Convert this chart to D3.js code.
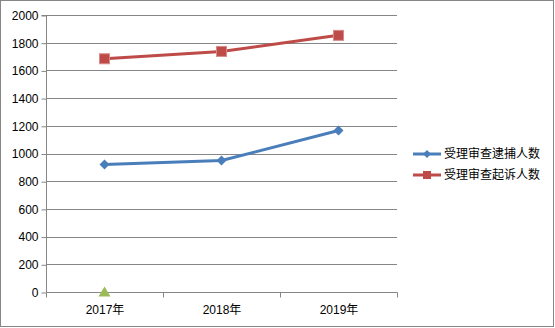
<!DOCTYPE html>
<html>
<head>
<meta charset="utf-8">
<script src="https://cdn.jsdelivr.net/npm/d3@7"></script>
<style>
  html, body { margin: 0; padding: 0; background: #fff; }
  svg { display: block; }
  text { font-family: "Liberation Sans", "Noto Sans CJK SC", sans-serif; font-size: 12px; fill: #000; }
</style>
</head>
<body>
<svg id="chart" width="555" height="328"></svg>
<script>
const categories = ["2017年", "2018年", "2019年"];
const arrestValues = [921, 949, 1166];      // 受理审查逮捕人数
const prosecuteValues = [1684, 1737, 1853]; // 受理审查起诉人数
const thirdSeries = [0, null, null];        // unlabeled series, single point
const yTicks = [0, 200, 400, 600, 800, 1000, 1200, 1400, 1600, 1800, 2000];
const seriesNames = ["受理审查逮捕人数", "受理审查起诉人数"];

const svg = d3.select("#chart");
const plotLeft = 46, plotRight = 397, plotTop = 15, plotBottom = 292;

svg.append("rect").attr("x", 0.5).attr("y", 0.5).attr("width", 553).attr("height", 326)
  .attr("fill", "#fff").attr("stroke", "#868686");

const x = d3.scaleBand().domain(categories).range([plotLeft, plotRight]);
const y = d3.scaleLinear().domain([0, 2000]).range([plotBottom, plotTop]);
const cx = d => x(d) + x.bandwidth() / 2;

// gridlines
svg.append("g").selectAll("line").data(yTicks.filter(t => t > 0)).join("line")
  .attr("x1", plotLeft).attr("x2", plotRight)
  .attr("y1", d => Math.round(y(d)) + 0.5).attr("y2", d => Math.round(y(d)) + 0.5)
  .attr("stroke", "#868686").attr("stroke-width", 1);

// y axis
const yAxis = svg.append("g").attr("transform", `translate(${plotLeft + 0.5},0.5)`)
  .call(d3.axisLeft(y).tickValues(yTicks).tickSize(5).tickPadding(3).tickFormat(d3.format("d")));
yAxis.select(".domain").attr("stroke", "#868686").attr("d", `M-5,${Math.round(y(2000))}H0V${Math.round(y(0))}`);
yAxis.selectAll(".tick line").attr("stroke", "#868686");
yAxis.selectAll(".tick text").style("font-size", "12px").attr("fill", "#000");

// x axis
const xAxis = svg.append("g").attr("transform", `translate(0.5,${Math.round(y(0)) + 0.5})`)
  .call(d3.axisBottom(x).tickSize(0).tickPadding(11));
xAxis.select(".domain").attr("stroke", "#868686").attr("d", `M${plotLeft},0H${plotRight}`);
xAxis.selectAll(".tick text").style("font-size", "12px").attr("fill", "#000").attr("dy", "0.9em");
svg.append("g").selectAll("line").data(categories.map(c => x(c)).concat([plotRight])).join("line")
  .attr("x1", d => Math.round(d) + 0.5).attr("x2", d => Math.round(d) + 0.5)
  .attr("y1", Math.round(y(0)) + 0.5).attr("y2", Math.round(y(0)) + 5.5)
  .attr("stroke", "#868686");

const line = d3.line().defined(d => d.v != null).x(d => cx(d.c)).y(d => y(d.v));
const toPts = vals => categories.map((c, i) => ({ c, v: vals[i] }));

const blue = "#4a7ebb", red = "#be4b48", green = "#9bbb59";

// 逮捕 series
svg.append("path").datum(toPts(arrestValues)).attr("d", line)
  .attr("fill", "none").attr("stroke", blue).attr("stroke-width", 3).attr("stroke-linejoin", "round");
svg.append("g").selectAll("path").data(toPts(arrestValues)).join("path")
  .attr("transform", d => `translate(${cx(d.c)},${y(d.v)})`)
  .attr("d", "M0,-5L5,0L0,5L-5,0Z").attr("fill", blue);

// 起诉 series
svg.append("path").datum(toPts(prosecuteValues)).attr("d", line)
  .attr("fill", "none").attr("stroke", red).attr("stroke-width", 3).attr("stroke-linejoin", "round");
svg.append("g").selectAll("rect").data(toPts(prosecuteValues)).join("rect")
  .attr("x", d => cx(d.c) - 5).attr("y", d => y(d.v) - 5).attr("width", 10).attr("height", 10)
  .attr("fill", red).attr("stroke", "#d88a88").attr("stroke-width", 1);

// third series marker
svg.append("g").selectAll("path").data(toPts(thirdSeries).filter(d => d.v != null)).join("path")
  .attr("transform", d => `translate(${cx(d.c)},${y(d.v)})`)
  .attr("d", "M0,-5.5L6,4.5L-6,4.5Z").attr("fill", green);

// legend
const legend = svg.append("g");
const legendRows = [
  { name: seriesNames[0], color: blue, shape: "diamond" },
  { name: seriesNames[1], color: red, shape: "square" }
];
legendRows.forEach((r, i) => {
  const ly = 154 + i * 21;
  legend.append("line").attr("x1", 413).attr("x2", 441).attr("y1", ly).attr("y2", ly)
    .attr("stroke", r.color).attr("stroke-width", 3);
  if (r.shape === "diamond") {
    legend.append("path").attr("transform", `translate(427,${ly})`)
      .attr("d", "M0,-4L4,0L0,4L-4,0Z").attr("fill", r.color);
  } else {
    legend.append("rect").attr("x", 423).attr("y", ly - 4).attr("width", 8).attr("height", 8)
      .attr("fill", r.color);
  }
  legend.append("text").attr("x", 444).attr("y", ly).attr("dy", "0.35em")
    .style("font-family", "'Noto Sans CJK SC', sans-serif").style("font-size", "12px").text(r.name);
});
</script>
</body>
</html>
